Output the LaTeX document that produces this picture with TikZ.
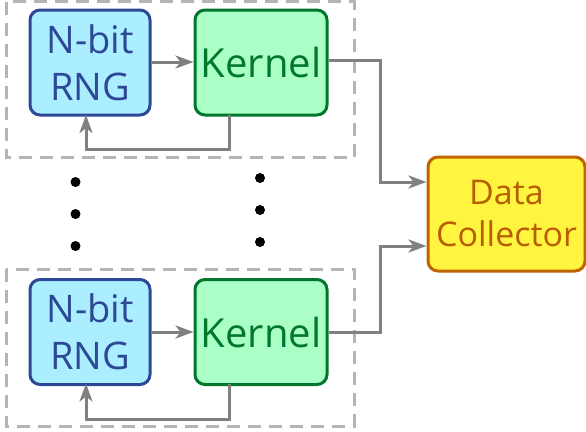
\documentclass[tikz,border=0pt]{standalone}
\usepackage{fontspec}
\setmainfont{Open Sans}
\usepackage{tikz}
\usetikzlibrary{calc,arrows.meta}
\definecolor{rngfill}{HTML}{AAEEFF}
\definecolor{rngline}{HTML}{2D4896}
\definecolor{kerfill}{HTML}{AAFFC6}
\definecolor{kerline}{HTML}{00772A}
\definecolor{colfill}{HTML}{FFF440}
\definecolor{colline}{HTML}{C06400}
\definecolor{coltext}{HTML}{B85E00}
\definecolor{wire}{HTML}{808080}
\definecolor{frame}{HTML}{B4B4B4}

\begin{document}
\begin{tikzpicture}[x=1pt, y=-1pt,
	rngbox/.style={fill=rngfill,draw=rngline,text=rngline,line width=3pt,rounded corners=10pt,minimum width=120pt,minimum height=105pt,inner sep=0pt,align=center,font=\fontsize{38}{47}\selectfont},
	kerbox/.style={fill=kerfill,draw=kerline,text=kerline,line width=3pt,rounded corners=10pt,minimum width=132pt,minimum height=105pt,inner sep=0pt,font=\fontsize{40}{47}\selectfont},
	colbox/.style={fill=colfill,draw=colline,text=coltext,line width=3pt,rounded corners=10pt,minimum width=157pt,minimum height=114pt,inner sep=0pt,align=center,font=\fontsize{34}{42}\selectfont},
	wire/.style={draw=wire,line width=3pt,-{Stealth[length=18pt,width=13pt,inset=5pt]}},
	frame/.style={draw=frame,line width=3pt,dash pattern=on 13pt off 8pt}]
	\useasboundingbox (0,0) rectangle (586,431);

	\draw[frame] (6,1.5) rectangle (354,157);
	\draw[frame] (6,269) rectangle (354,426);

	\node[rngbox] (rngA) at (90, 62.5) {N-bit\\RNG};
	\node[kerbox] (kerA) at (261, 62.5) {Kernel};
	\node[rngbox] (rngB) at (90, 332) {N-bit\\RNG};
	\node[kerbox] (kerB) at (261, 332) {Kernel};
	\node[colbox] (coll) at (506.5, 214) {Data\\Collector};

	\draw[wire] (rngA.east |- 0,62) -- (kerA.west |- 0,62);
	\draw[wire] (rngB.east) -- (kerB.west);
	\draw[wire] (229,115) -- (229,149) -- (86,149) -- (86,115);
	\draw[wire] (229,383.5) -- (229,419) -- (86,419) -- (86,383.5);
	\draw[wire] (kerA.east |- 0,60) -- (380,60) -- (380,182) -- (coll.west |- 0,182);
	\draw[wire] (kerB.east |- 0,332) -- (380,332) -- (380,246) -- (coll.west |- 0,246);

	\foreach \y in {182,214,246} \fill (75.5,\y) circle (5pt);
	\foreach \y in {178,210,242} \fill (260,\y) circle (5pt);
\end{tikzpicture}
\end{document}
